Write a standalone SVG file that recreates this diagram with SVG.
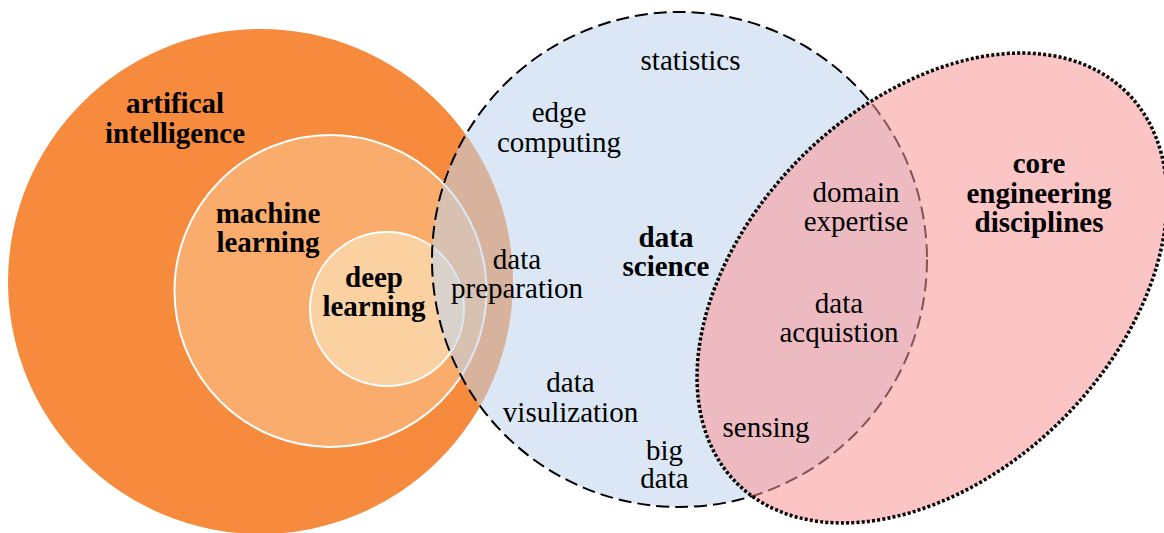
<svg xmlns="http://www.w3.org/2000/svg" width="1164" height="533" viewBox="0 0 1164 533">
<style>
text{font-family:"Liberation Serif","Times New Roman",serif;font-size:29px;fill:#000;text-anchor:middle}
.b{font-weight:bold}
.inner{stroke:#fff;stroke-width:2}
</style>
<rect width="1164" height="533" fill="#fff"/>
<g id="ai">
<circle cx="260.5" cy="281.5" r="252.5" fill="#F68B3D"/>
<text class="b" x="175" y="113">artifical</text>
<text class="b" x="175" y="142.5">intelligence</text>
</g>
<g id="ml">
<circle class="inner" cx="330.5" cy="291" r="156" fill="#F9AC6B"/>
<text class="b" x="268" y="223">machine</text>
<text class="b" x="268" y="252">learning</text>
</g>
<g id="dl">
<circle class="inner" cx="387" cy="309" r="77" fill="#FBD1A2"/>
<text class="b" x="374" y="287">deep</text>
<text class="b" x="374" y="316">learning</text>
</g>
<g id="ds">
<circle cx="679.5" cy="259.5" r="247.5" fill="#BED4EB" fill-opacity="0.55" stroke="#000" stroke-width="2" stroke-dasharray="13 6"/>
<text x="690.5" y="70">statistics</text>
<text x="559" y="122">edge</text>
<text x="559" y="152">computing</text>
<text x="517" y="269">data</text>
<text x="517" y="298">preparation</text>
<text class="b" x="666" y="247">data</text>
<text class="b" x="666" y="276">science</text>
<text x="570.5" y="392">data</text>
<text x="570.5" y="422">visulization</text>
<text x="664.5" y="460">big</text>
<text x="664.5" y="488">data</text>
</g>
<g id="ce">
<ellipse cx="932" cy="288" rx="276" ry="185" transform="rotate(-45 932 288)" fill="#FA9696" fill-opacity="0.55" stroke="#000" stroke-width="3.5" stroke-dasharray="3 2.2"/>
<text class="b" x="1039" y="173">core</text>
<text class="b" x="1039" y="203">engineering</text>
<text class="b" x="1039" y="232">disciplines</text>
</g>
<g id="ds-ce">
<text x="856" y="202">domain</text>
<text x="856" y="231">expertise</text>
<text x="839" y="313">data</text>
<text x="839" y="342">acquistion</text>
<text x="766" y="437">sensing</text>
</g>
</svg>
